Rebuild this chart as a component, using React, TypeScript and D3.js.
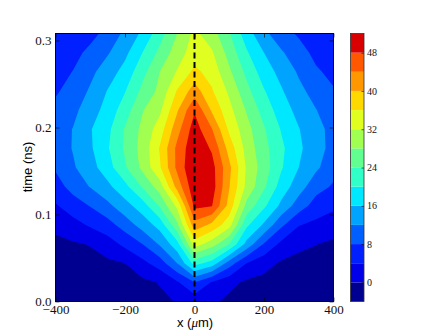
import React, { useEffect, useRef } from 'react';
import * as d3 from 'd3';

// columns of the grid, x in um
const xValues = [-400, -350, -300, -250, -200, -150, -100, -50, 0, 50, 100, 150, 200, 250, 300, 350, 400];
// rows of the grid, time in ns
const timeValues = [0, 0.022, 0.044, 0.066, 0.088, 0.11, 0.132, 0.154, 0.176, 0.198, 0.22, 0.242, 0.264, 0.286, 0.308];

// one row per time
const field = [
  [-3, -2.7, -2.3, -2, -1.6, -1.2, -0.7, 0.2, 1.5, 0.8, -1, -1.5, -1.7, -2, -2.5, -2.7, -3],
  [-2.8, -2.4, -2, -1.7, -1.2, -0.8, 0.2, 3.5, 8, 3.7, 1.2, -0.7, -1, -1.7, -2.2, -2.5, -2.7],
  [-2, -1.6, -1.2, -0.7, 0, 2.8, 6, 12, 21.5, 18.4, 10, 4, 1.3, -0.5, -1, -1.5, -2],
  [-0.9, -0.4, 0.2, 2.2, 5, 8, 12.5, 18.5, 34, 30, 24, 14.7, 7.7, 3, 0.8, 0.1, -0.7],
  [0.9, 2.6, 4.5, 6.4, 9.8, 13.6, 17.5, 27, 42.5, 39, 33.6, 20.8, 15.3, 8.8, 4.2, 3, 1.9],
  [3.6, 6, 8.2, 11, 14.5, 18, 24.5, 33, 49, 48.2, 38.5, 26.8, 20.8, 15, 10, 6.3, 4.8],
  [6.2, 9.5, 12.2, 15, 18.8, 24.4, 30, 41.5, 51, 50, 40.2, 31, 24.7, 18.2, 13.8, 9.5, 7.5],
  [8.5, 11.5, 14.4, 18.3, 23.5, 29, 35.5, 45, 52, 49.5, 41, 31.5, 26, 20.4, 16, 12.7, 9.5],
  [9.8, 12.2, 15.4, 19.6, 24.6, 29.5, 36.3, 45, 51, 47.5, 38.4, 30.5, 25.3, 20.8, 16.8, 13.4, 10.8],
  [10.2, 12.1, 15.7, 19, 24.4, 29, 34, 42.5, 50, 44.2, 35.2, 29.5, 24.4, 19.7, 16.2, 13, 11],
  [9, 11, 14, 17.6, 22, 27.7, 31.2, 39.5, 47.6, 39.4, 33.2, 27.6, 22.3, 18, 14.7, 12.1, 9.7],
  [7.5, 9.5, 12.5, 16.2, 19.8, 25, 29, 36.3, 42, 36.4, 31.2, 25.2, 20.3, 16.4, 13, 10.5, 8.3],
  [6.3, 8.1, 11, 14, 17.4, 22.7, 28, 32.3, 37, 34.4, 28.7, 23, 18, 14.7, 11.5, 8.5, 7],
  [5.3, 6.5, 9.2, 11.6, 15, 20, 25, 30.1, 34, 32.5, 26.5, 20.5, 16, 12.5, 9.5, 7, 6],
  [4.3, 5, 6.5, 9.5, 12.8, 16.8, 22.3, 28, 33, 29.7, 24.3, 17.8, 13, 9.5, 7.5, 5.5, 4.8],
];

const levels = [-4, 0, 4, 8, 12, 16, 20, 24, 28, 32, 36, 40, 44, 48];
const levelColors = [
  '#000090', '#0000e8', '#0020ff', '#0060ff', '#00a4ff', '#00e8ff', '#30ffc8',
  '#60ff90', '#a0ff50', '#e0ff20', '#ffd800', '#ff9800', '#ff5800', '#d80000',
];

const xTicks = [-400, -200, 0, 200, 400];
const timeTicks = [0, 0.1, 0.2, 0.3];
const barTicks = [0, 8, 16, 24, 32, 40, 48];

const serif = '"Liberation Serif", serif';
const sans = '"Liberation Sans", sans-serif';

const App = () => {
  const chartRef = useRef<SVGSVGElement>(null);

  useEffect(() => {
    const svg = d3.select(chartRef.current);
    svg.selectAll('*').remove();

    const left = 55.5, right = 333.5, top = 33.5, bottom = 301.5;
    const xScale = d3.scaleLinear().domain([-400, 400]).range([left, right]);
    const yScale = d3.scaleLinear().domain([0, 0.308]).range([bottom, top]);

    // d3.contours puts value i at grid coordinate i + 0.5
    const gridX = d3.scaleLinear().domain([0.5, xValues.length - 0.5]).range([xValues[0], xValues[xValues.length - 1]]);
    const gridY = d3.scaleLinear().domain([0.5, timeValues.length - 0.5]).range([timeValues[0], timeValues[timeValues.length - 1]]);

    const contours = d3.contours()
      .size([xValues.length, timeValues.length])
      .smooth(true)
      .thresholds(levels);
    const polygons = contours(field.flat());

    const path = d3.geoPath(d3.geoTransform({
      point(x, y) {
        this.stream.point(xScale(gridX(x)), yScale(gridY(y)));
      },
    }));

    svg.append('clipPath').attr('id', 'plot-clip')
      .append('rect')
      .attr('x', left).attr('y', top)
      .attr('width', right - left).attr('height', bottom - top);

    svg.append('rect')
      .attr('x', left).attr('y', top)
      .attr('width', right - left).attr('height', bottom - top)
      .attr('fill', levelColors[0]);

    svg.append('g').attr('clip-path', 'url(#plot-clip)')
      .selectAll('path')
      .data(polygons)
      .enter().append('path')
      .attr('d', d => path(d))
      .attr('fill', (d, i) => levelColors[i]);

    // dashed line at x = 0
    svg.append('line')
      .attr('x1', xScale(0)).attr('x2', xScale(0))
      .attr('y1', top).attr('y2', bottom)
      .attr('stroke', '#000')
      .attr('stroke-width', 2)
      .attr('stroke-dasharray', '6,3.5');

    const styleAxis = (g, size = 13) => {
      g.select('.domain').remove();
      g.selectAll('.tick line').attr('stroke', '#000').attr('stroke-width', 0.6);
      g.selectAll('.tick text')
        .attr('font-family', serif)
        .attr('font-size', size)
        .attr('fill', '#111');
    };

    const minus = d => String(d).replace('-', '\u2212');

    svg.append('g')
      .attr('transform', `translate(0, ${bottom})`)
      .call(d3.axisBottom(xScale).tickValues(xTicks).tickFormat(minus).tickSizeInner(-4).tickPadding(3))
      .call(styleAxis);
    svg.append('g')
      .attr('transform', `translate(0, ${top})`)
      .call(d3.axisTop(xScale).tickValues(xTicks).tickFormat(() => '').tickSizeInner(-4))
      .call(styleAxis);
    svg.append('g')
      .attr('transform', `translate(${left}, 0)`)
      .call(d3.axisLeft(yScale).tickValues(timeTicks).tickFormat(d3.format('.1f')).tickSizeInner(-4).tickPadding(4))
      .call(styleAxis);
    svg.append('g')
      .attr('transform', `translate(${right}, 0)`)
      .call(d3.axisRight(yScale).tickValues(timeTicks).tickFormat(() => '').tickSizeInner(-4))
      .call(styleAxis);

    svg.append('rect')
      .attr('x', left).attr('y', top)
      .attr('width', right - left).attr('height', bottom - top)
      .attr('fill', 'none')
      .attr('stroke', '#000')
      .attr('stroke-width', 1);

    // colour bar
    const barLeft = 350.5, barRight = 364;
    const barScale = d3.scaleLinear().domain([-4, 52]).range([bottom, top]);
    const step = 4;

    svg.append('g')
      .selectAll('rect')
      .data(levels)
      .enter().append('rect')
      .attr('x', barLeft)
      .attr('y', d => barScale(d + step))
      .attr('width', barRight - barLeft)
      .attr('height', d => barScale(d) - barScale(d + step))
      .attr('fill', (d, i) => levelColors[i]);

    svg.append('g')
      .attr('transform', `translate(${barRight}, 0)`)
      .call(d3.axisRight(barScale).tickValues(barTicks).tickSizeInner(-2.5).tickPadding(3))
      .call(g => styleAxis(g, 10));

    svg.append('rect')
      .attr('x', barLeft).attr('y', top)
      .attr('width', barRight - barLeft).attr('height', bottom - top)
      .attr('fill', 'none')
      .attr('stroke', '#333')
      .attr('stroke-width', 0.8);

    // axis titles
    const xLabel = svg.append('text')
      .attr('x', 195).attr('y', 326.5)
      .attr('text-anchor', 'middle')
      .attr('font-family', sans)
      .attr('font-size', 13)
      .attr('fill', '#000');
    xLabel.append('tspan').text('x (');
    xLabel.append('tspan').attr('font-family', serif).attr('font-style', 'italic').text('\u03bc');
    xLabel.append('tspan').text('m)');

    svg.append('text')
      .attr('transform', `translate(32, ${(top + bottom) / 2 - 0.5}) rotate(-90)`)
      .attr('text-anchor', 'middle')
      .attr('font-family', sans)
      .attr('font-size', 13)
      .attr('fill', '#000')
      .text('time (ns)');
  }, []);

  return (
    <svg
      ref={chartRef}
      width={447}
      height={335}
      style={{ position: 'absolute', left: 0, top: 0, display: 'block', background: '#fff' }}
    />
  );
};

export default App;
